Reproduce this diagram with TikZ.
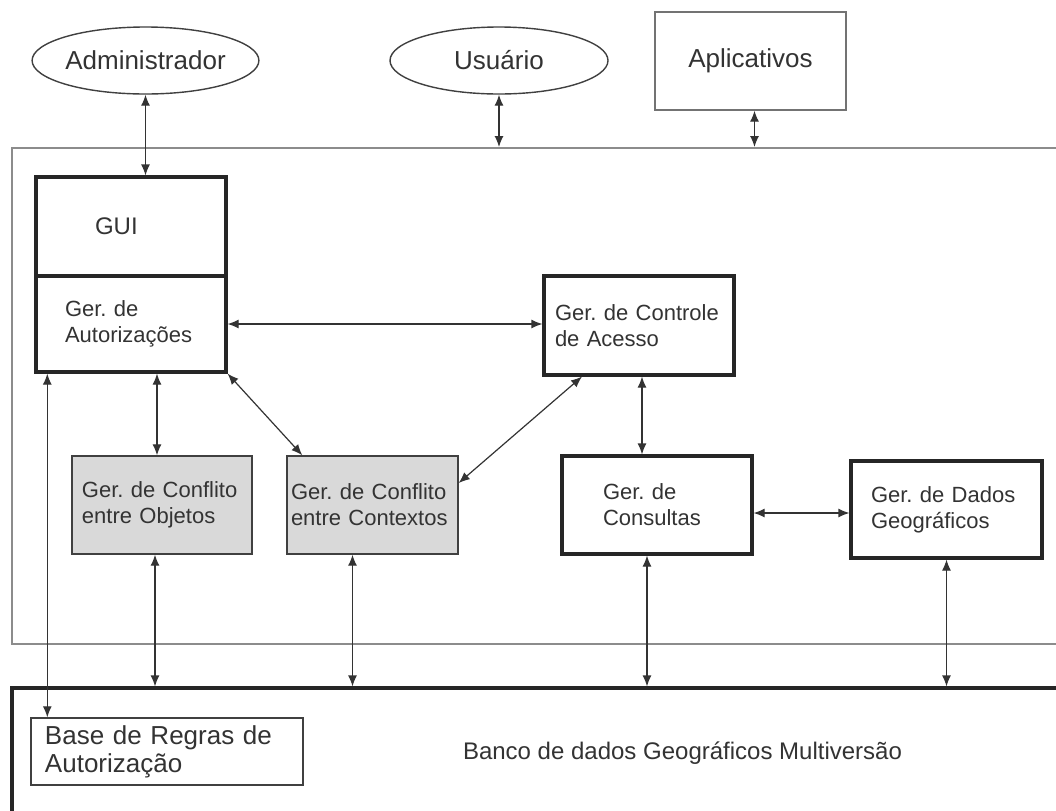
\documentclass[tikz,border=0pt]{standalone}
\usepackage{fontspec}
\setmainfont{Liberation Sans}
\usetikzlibrary{shapes.geometric,arrows.meta}
\definecolor{texto}{HTML}{333333}
\definecolor{moldura}{HTML}{8C8C8C}
\definecolor{cinza}{HTML}{D9D9D9}
\frenchspacing
\hyphenpenalty=10000
\exhyphenpenalty=10000

\begin{document}
\begin{tikzpicture}[x=0.5pt,y=-0.5pt,
    ator/.style={draw=black!75,ellipse,line width=0.7pt,inner sep=0pt,text=texto,font=\fontsize{13}{15}\selectfont},
    modulo/.style={draw=black!85,line width=1.6pt,align=left,text=texto,font=\fontsize{11}{13}\selectfont},
    conflito/.style={draw=black!75,fill=cinza,line width=0.7pt,align=left,text=texto,font=\fontsize{11}{13}\selectfont,minimum height=49pt},
    seta/.style={{Latex[length=5.5pt,width=4.5pt]}-{Latex[length=5.5pt,width=4.5pt]},line width=0.6pt,black!80}]
  \clip (0,0) rectangle (1056,810);
  \fill[white] (0,0) rectangle (1056,810);
  % usuarios do sistema
  \node[ator,minimum width=108.5pt,minimum height=33.5pt] (adm) at (145.5,60.5) {Administrador};
  \node[ator,minimum width=109pt,minimum height=33.5pt] (usu) at (499,60.5) {Usuário};
  \node[draw=black!55,line width=0.7pt,minimum width=95.5pt,minimum height=49pt,text=texto,font=\fontsize{13}{15}\selectfont] (apl) at (750.5,61) {Aplicativos};
  % moldura do sistema
  \node[draw=moldura,line width=1pt,minimum width=524pt,minimum height=248pt] (sis) at (536,396) {};
  % modulos
  \node[modulo,minimum height=49.5pt,inner xsep=29.5pt,text width=36pt,font=\fontsize{12}{14}\selectfont] (gui) at (131,226.5) {GUI};
  \node[modulo,minimum height=48pt,inner xsep=14.5pt,text width=66pt] (aut) at (131,324) {Ger. de\\Autorizações};
  \node[modulo,minimum height=49.5pt,inner xsep=5.5pt,text width=84pt] (ctl) at (639,325.5) {Ger. de Controle\\de Acesso};
  \node[conflito,inner xsep=5pt,text width=80pt] (obj) at (162,505) {Ger. de Conflito\\entre Objetos};
  \node[conflito,inner xsep=2pt,text width=81.5pt] (ctx) at (372.5,505) {Ger. de Conflito\\entre Contextos};
  \node[modulo,minimum height=49pt,inner xsep=20.5pt,text width=54pt] (cons) at (657,505) {Ger. de\\Consultas};
  \node[modulo,minimum height=48.5pt,inner xsep=10pt,text width=75.5pt] (dad) at (946.5,509.5) {Ger. de Dados\\Geográficos};
  % banco de dados
  \node[draw=black!85,line width=1.6pt,minimum width=524pt,minimum height=66pt] (db) at (536,754) {};
  \node[text=texto,font=\fontsize{12}{14}\selectfont] (bdtxt) at (682.5,753) {Banco de dados Geográficos Multiversão};
  \node[draw=black!75,line width=0.7pt,align=left,inner xsep=7pt,inner ysep=1pt,text width=122pt,minimum height=33.5pt,text=texto,font=\fontsize{13}{14}\selectfont] (base) at (167,751.5) {Base de Regras de\\Autorização};
  % conexoes
  \draw[seta] (adm.south) -- (adm.south |- gui.north);
  \draw[seta] (usu.south) -- (usu.south |- sis.north);
  \draw[seta] ([xshift=2pt]apl.south) -- ([xshift=2pt]apl.south |- sis.north);
  \draw[seta] (aut.east) -- (aut.east -| ctl.west);
  \draw[seta] ([xshift=-2.5pt]obj.north |- aut.south) -- ([xshift=-2.5pt]obj.north);
  \draw[seta] (aut.south east) -- ([xshift=8pt]ctx.north west);
  \draw[seta] ([xshift=-28.5pt]ctl.south) -- ([yshift=11pt]ctx.east);
  \draw[seta] ([xshift=1.5pt]ctl.south) -- ([xshift=1.5pt]ctl.south |- cons.north);
  \draw[seta] ([yshift=-4pt]cons.east) -- ([yshift=-4pt]cons.east -| dad.west);
  \draw[seta] ([xshift=8.5pt]base.north west |- aut.south) -- ([xshift=8.5pt]base.north west);
  \draw[seta] ([xshift=-3.5pt]obj.south) -- ([xshift=-3.5pt]obj.south |- db.north);
  \draw[seta] ([xshift=-10pt]ctx.south) -- ([xshift=-10pt]ctx.south |- db.north);
  \draw[seta] ([xshift=-5pt]cons.south) -- ([xshift=-5pt]cons.south |- db.north);
  \draw[seta] (dad.south) -- (dad.south |- db.north);
\end{tikzpicture}
\end{document}
